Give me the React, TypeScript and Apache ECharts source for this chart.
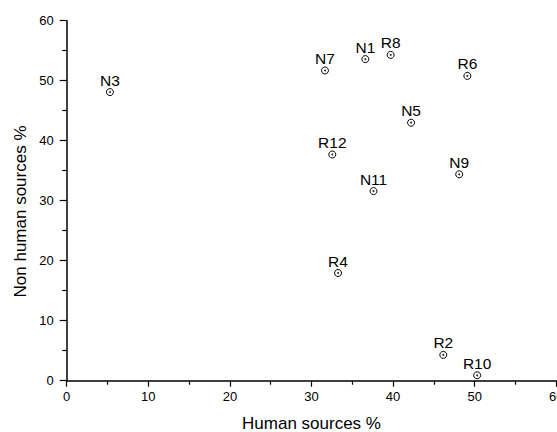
import React, { useEffect, useRef } from "react";
import * as echarts from "echarts";

const sampleNames = ["N3", "N7", "N1", "R8", "R6", "N5", "R12", "N11", "N9", "R4", "R2", "R10"];
const humanSources = [5.3, 31.65, 36.6, 39.7, 49.1, 42.2, 32.55, 37.6, 48.1, 33.25, 46.15, 50.3];
const nonHumanSources = [48.1, 51.7, 53.6, 54.3, 50.8, 43.0, 37.7, 31.6, 34.4, 17.95, 4.3, 0.9];
const xTitle = "Human sources %";
const yTitle = "Non human sources %";

const FONT = "Liberation Sans, Arial, sans-serif";

export default function App() {
  const ref = useRef<HTMLDivElement>(null);
  useEffect(() => {
    if (!ref.current) return;
    const chart = echarts.init(ref.current, undefined, { renderer: "svg" });
    const data = sampleNames.map((n, i) => ({ name: n, value: [humanSources[i], nonHumanSources[i]] }));
    chart.setOption({
      animation: false,
      backgroundColor: "#fff",
      grid: { left: 66.7, right: 0.7, top: 20.7, bottom: 51.3, containLabel: false, outerBoundsMode: "none" },
      xAxis: {
        type: "value",
        min: 0,
        max: 60,
        interval: 10,
        splitLine: { show: false },
        axisLine: { show: true, onZero: false, lineStyle: { color: "#000", width: 1.5 } },
        axisTick: { show: true, length: 6, lineStyle: { color: "#000", width: 1.2 } },
        minorTick: { show: true, splitNumber: 2, length: 4, lineStyle: { color: "#000", width: 1.2 } },
        axisLabel: { color: "#000", fontSize: 13, fontFamily: FONT, margin: 9, showMaxLabel: true },
      },
      yAxis: {
        type: "value",
        min: 0,
        max: 60,
        interval: 10,
        splitLine: { show: false },
        axisLine: { show: true, onZero: false, lineStyle: { color: "#000", width: 1.5 } },
        axisTick: { show: true, length: 7, lineStyle: { color: "#000", width: 1.2 } },
        minorTick: { show: true, splitNumber: 2, length: 4.5, lineStyle: { color: "#000", width: 1.2 } },
        axisLabel: { color: "#000", fontSize: 13, fontFamily: FONT, margin: 13 },
      },
      graphic: [
        {
          type: "text",
          x: 311.5,
          y: 423.5,
          style: { text: xTitle, fill: "#000", font: `17px ${FONT}`, textAlign: "center", textVerticalAlign: "middle" },
        },
        {
          type: "text",
          x: 20,
          y: 211.5,
          rotation: Math.PI / 2,
          style: { text: yTitle, fill: "#000", font: `17px ${FONT}`, textAlign: "center", textVerticalAlign: "middle" },
        },
      ],
      series: [
        {
          type: "scatter",
          data,
          symbol: "circle",
          symbolSize: 7,
          itemStyle: { color: "#fff", borderColor: "#000", borderWidth: 1, opacity: 1 },
          label: {
            show: true,
            position: "top",
            distance: 0,
            formatter: (p: any) => p.name,
            color: "#000",
            fontSize: 15.5,
            fontFamily: FONT,
          },
          z: 2,
        },
        {
          type: "scatter",
          data,
          symbol: "circle",
          symbolSize: 2,
          itemStyle: { color: "#000" },
          silent: true,
          z: 3,
        },
      ],
    });
    return () => chart.dispose();
  }, []);
  return <div ref={ref} style={{ position: "fixed", left: 0, top: 0, width: 557, height: 432 }} />;
}
